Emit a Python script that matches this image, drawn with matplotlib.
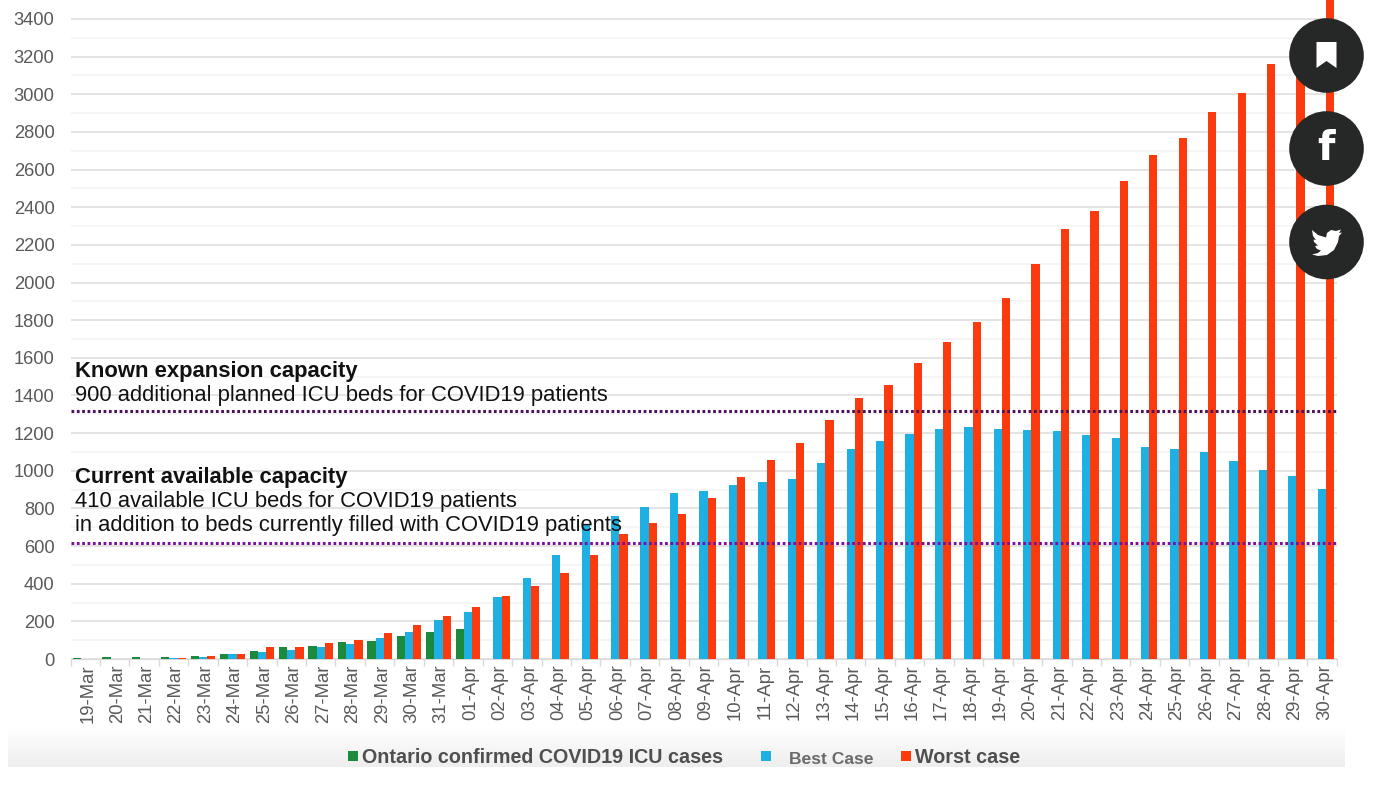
import numpy as np
import matplotlib
matplotlib.use("Agg")
import matplotlib.pyplot as plt
from matplotlib.patches import Circle, Polygon, Rectangle
from matplotlib.transforms import ScaledTranslation

plt.rcParams['font.family'] = ['Liberation Sans', 'DejaVu Sans']

# datos
marzo = [str(d) + "-Mar" for d in range(19, 32)]
abril = ["%02d-Apr" % d for d in range(1, 31)]
fechas = marzo + abril

ontario = [4, 8, 8, 8, 15, 27, 42, 62, 70, 90, 98, 122, 142, 162]
mejor = [0, 0, 0, 5, 12, 24, 35, 48, 62, 78, 110, 143, 205, 252,
         327, 430, 552, 712, 760, 810, 880, 893, 922, 940, 955, 1040, 1115,
         1160, 1195, 1220, 1230, 1220, 1215, 1210, 1190, 1175, 1125, 1118,
         1098, 1052, 1005, 970, 905]
peor = [0, 0, 0, 3, 15, 27, 62, 62, 83, 103, 137, 180, 228, 275,
        337, 387, 458, 553, 663, 722, 772, 855, 965, 1055, 1150, 1270, 1385,
        1455, 1575, 1685, 1790, 1920, 2100, 2285, 2380, 2540, 2680, 2770,
        2905, 3005, 3160, 3320, 3600]
capacidad_actual = 617
capacidad_expansion = 1318

W, H = 1377, 787
fig = plt.figure(figsize=(W / 100, H / 100), dpi=100, facecolor="white")

# fondo con degradado abajo
fondo = fig.add_axes([8 / W, 1 - 767 / H, (1345 - 8) / W, 767 / H], zorder=0)
grad = np.ones((767, 1))
grad[725:, 0] = np.linspace(1, 0.93, 42)
fondo.imshow(grad, aspect="auto", cmap="gray", vmin=0, vmax=1)
fondo.axis("off")

# grafico principal
ax = fig.add_axes([70.5 / W, 1 - 659 / H, (1336.5 - 70.5) / W, 659 / H], zorder=1)
ax.patch.set_alpha(0)
x = np.arange(len(fechas))
ancho = 0.28
ax.bar(x[:len(ontario)] - ancho, ontario, ancho, color="#1b8a3c", zorder=3)
ax.bar(x, mejor, ancho, color="#1fb0e3", zorder=3)
ax.bar(x + ancho, peor, ancho, color="#fb3a0e", zorder=3)
ax.set_xlim(-0.5, len(fechas) - 0.5)
ax.set_ylim(0, 659 / 0.18824)

ax.set_yticks(np.arange(0, 3401, 200))
ax.set_yticks(np.arange(100, 3500, 200), minor=True)
ax.grid(True, axis="y", which="major", color="#e4e4e4", lw=1.4, zorder=1)
ax.grid(True, axis="y", which="minor", color="#f3f3f3", lw=1.2, zorder=1)
ax.set_xticks(np.arange(-0.5, len(fechas)), minor=True)
ax.set_xticks(x)
ax.set_xticklabels(fechas, rotation=90, fontsize=13.3, color="#5a5a5a")
ax.tick_params(axis="x", which="major", length=0, pad=4)
ax.tick_params(axis="x", which="minor", length=5, color="#d9d9d9", width=1)
ax.tick_params(axis="y", which="both", length=0)
ax.tick_params(axis="y", which="major", labelsize=13.2, labelcolor="#5a5a5a", pad=11.5)
for lado in ["top", "right", "left"]:
    ax.spines[lado].set_visible(False)
ax.spines["bottom"].set_color("#d9d9d9")

# las etiquetas van un poco a la derecha del centro
corrimiento = ScaledTranslation(2.5 / 100, 0, fig.dpi_scale_trans)
for etiqueta in ax.get_xticklabels():
    etiqueta.set_transform(etiqueta.get_transform() + corrimiento)

ax.axhline(capacidad_expansion, color="#4c1259", lw=2.2, ls=(0, (0.9, 0.85)), zorder=4)
ax.axhline(capacidad_actual, color="#7d0f9e", lw=2.2, ls=(0, (0.9, 0.85)), zorder=4)

# capa en pixeles para textos, leyenda e iconos
capa = fig.add_axes([0, 0, 1, 1], zorder=2)
capa.set_xlim(0, W)
capa.set_ylim(H, 0)
capa.axis("off")
capa.patch.set_alpha(0)

negro = "#111111"
capa.text(75, 372, "Known expansion capacity", fontsize=15.8, fontweight="bold", color=negro, va="center")
capa.text(75, 396, "900 additional planned ICU beds for COVID19 patients", fontsize=15.8, color=negro, va="center")
capa.text(75, 478, "Current available capacity", fontsize=15.8, fontweight="bold", color=negro, va="center")
capa.text(75, 501, "410 available ICU beds for COVID19 patients", fontsize=15.8, color=negro, va="center")
capa.text(75, 525, "in addition to beds currently filled with COVID19 patients", fontsize=15.8, color=negro, va="center")

# leyenda
capa.add_patch(Rectangle((348, 751), 10, 10, color="#1b8a3c", lw=0))
capa.text(362, 757.5, "Ontario confirmed COVID19 ICU cases", fontsize=14.2, fontweight="bold", color="#4f4f4f", va="center")
capa.add_patch(Rectangle((761, 751), 10, 10, color="#1fb0e3", lw=0))
capa.text(789, 759, "Best Case", fontsize=12.6, fontweight="bold", color="#6a6a6a", va="center")
capa.add_patch(Rectangle((901, 751), 10, 10, color="#fb3a0e", lw=0))
capa.text(915, 757.5, "Worst case", fontsize=14.2, fontweight="bold", color="#4f4f4f", va="center")

# botones
oscuro = "#252827"
cx = 1326.5
for cy in [55.5, 148.5, 242]:
    capa.add_patch(Circle((cx, cy), 37.3, color=oscuro, lw=0, zorder=5))
capa.add_patch(Polygon([(1316.5, 42), (1336.5, 42), (1336.5, 68), (1326.5, 61), (1316.5, 68)],
                       color="white", lw=0, zorder=6))
capa.text(cx, 149.5, "f", fontsize=29, fontweight="bold", family="DejaVu Sans", color="white",
          ha="center", va="center", zorder=6)
pajaro = [(1312, 230), (1318, 235), (1326, 237.5), (1327, 233), (1331, 230), (1336, 231), (1341, 229.5),
          (1339, 233), (1342, 232.5), (1339, 236), (1338, 242), (1334, 250), (1327, 255), (1318, 256),
          (1312, 254.5), (1318, 253), (1321, 250.5), (1317, 249), (1315, 246), (1318, 245.5), (1314, 242),
          (1313.5, 239.5), (1316, 240), (1313, 236)]
capa.add_patch(Polygon(pajaro, color="white", lw=0, zorder=6))

fig.savefig("out.png", dpi=100)
